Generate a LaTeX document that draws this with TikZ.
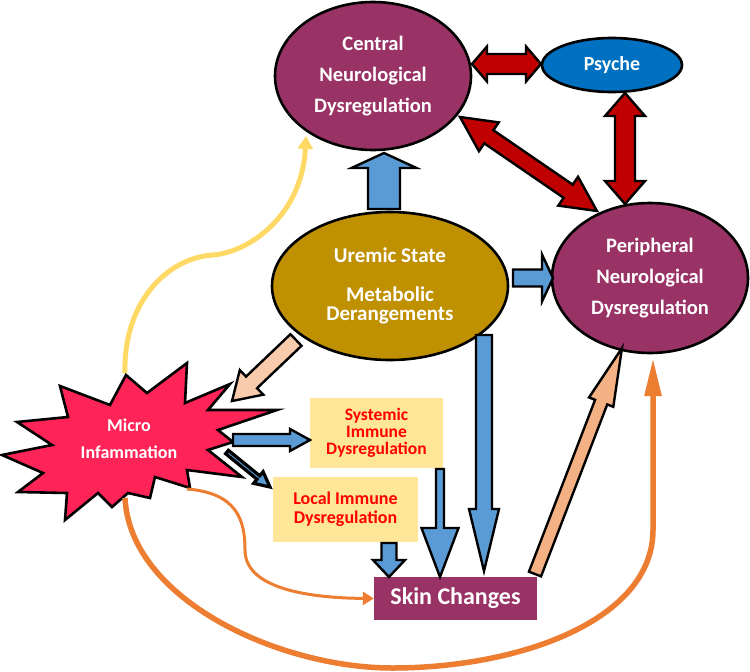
\documentclass[tikz,border=0pt]{standalone}
\usepackage{fontspec}
\setmainfont{Carlito}
\usetikzlibrary{shapes.geometric,calc,arrows.meta}

\definecolor{plum}{RGB}{153,51,102}
\definecolor{uremicgold}{RGB}{191,144,0}
\definecolor{psyblue}{RGB}{0,112,192}
\definecolor{arrblue}{RGB}{91,155,213}
\definecolor{darkred}{RGB}{192,0,0}
\definecolor{peach}{RGB}{248,203,173}
\definecolor{peachdark}{RGB}{244,177,131}
\definecolor{sunny}{RGB}{255,217,102}
\definecolor{tangerine}{RGB}{237,125,49}
\definecolor{cream}{RGB}{255,230,153}
\definecolor{crimson}{RGB}{255,36,88}

% block arrow: style, from, to, half shaft, half head, head length
\newcommand{\fatarrow}[6]{%
  \coordinate (hb) at ($(#3)!#6pt!(#2)$);
  \draw[#1] ($(#2)!#4pt!90:(#3)$) -- ($(hb)!#4pt!90:(#3)$) -- ($(hb)!#5pt!90:(#3)$) -- (#3)
    -- ($(hb)!#5pt!-90:(#3)$) -- ($(hb)!#4pt!-90:(#3)$) -- ($(#2)!#4pt!-90:(#3)$) -- cycle;}
% same with a head at both ends
\newcommand{\twinarrow}[6]{%
  \coordinate (ha) at ($(#2)!#6pt!(#3)$);
  \coordinate (hb) at ($(#3)!#6pt!(#2)$);
  \draw[#1] (#2) -- ($(ha)!#5pt!90:(#3)$) -- ($(ha)!#4pt!90:(#3)$) -- ($(hb)!#4pt!90:(#3)$)
    -- ($(hb)!#5pt!90:(#3)$) -- (#3) -- ($(hb)!#5pt!-90:(#3)$) -- ($(hb)!#4pt!-90:(#3)$)
    -- ($(ha)!#4pt!-90:(#3)$) -- ($(ha)!#5pt!-90:(#3)$) -- cycle;}

\begin{document}
\begin{tikzpicture}[x=1pt, y=-1pt,
  ell/.style = {draw, ellipse, line width=2.6pt, inner sep=0pt, text=white, align=center,
                font=\bfseries\fontsize{20.5}{31}\selectfont},
  box/.style = {fill=cream, text=red, align=center, inner sep=0pt,
                font=\bfseries\fontsize{17.5}{17}\selectfont},
  fat/.style = {draw, line width=2.4pt, line join=miter},
  curve/.style = {line width=#1}]
  \useasboundingbox (0,0) rectangle (750,672);

  % curved links
  \coordinate (m1) at (125,373);
  \coordinate (c0) at (306,136);
  \draw[curve=5pt, sunny, -{Triangle[length=13pt,width=15pt]}] (m1) .. controls (123,305) and (165,258) .. (213,255) .. controls (250,252) and (302,215) .. (c0);
  \coordinate (m2) at (187,489);
  \coordinate (m3) at (125,498);
  \coordinate (p0) at (653,358);

  % starburst
  \draw[fill=crimson, line width=2.6pt, line join=miter] (126,375) -- (147,393) -- (187,363) -- (185,403) -- (230,384) -- (208,410)
    -- (277,410) -- (218,430) -- (233,442) -- (208,450) -- (242,477) -- (187,470) -- (190,488) -- (155,477) -- (150,498)
    -- (128,493) -- (112,507) -- (98,493) -- (65,520) -- (67,493) -- (18,492) -- (43,473) -- (2,455) -- (52,445)
    -- (17,422) -- (68,417) -- (60,386) -- (110,405) -- cycle;
  \node[text=white, align=center, font=\bfseries\fontsize{18}{27}\selectfont] (micro) at (129,439) {Micro\\Infammation};

  \node[ell, fill=plum, minimum width=196pt, minimum height=148pt] (central) at (373,76) {Central\\Neurological\\Dysregulation};
  \node[ell, fill=psyblue, minimum width=140pt, minimum height=54pt, font=\bfseries\fontsize{20}{24}\selectfont] (psyche) at (612,65) {Psyche};
  \node[ell, fill=plum, minimum width=196pt, minimum height=150pt] (peripheral) at (650,278) {Peripheral\\Neurological\\Dysregulation};
  \node[ell, fill=uremicgold, minimum width=236pt, minimum height=148pt, font=\bfseries\fontsize{21}{19}\selectfont] (uremic) at (390,286) {Uremic State\\[20pt]Metabolic\\Derangements};

  \node[box, minimum width=133pt, minimum height=70pt] (systemic) at (376.5,433) {Systemic\\Immune\\Dysregulation};
  \node[box, minimum width=145pt, minimum height=65pt, font=\bfseries\fontsize{18}{19}\selectfont] (local) at (345.5,509.5) {Local Immune\\Dysregulation};
  \node[fill=plum, text=white, inner sep=0pt, minimum width=163pt, minimum height=43pt, font=\bfseries\fontsize{24}{28}\selectfont] (skin) at (455.5,598.5) {Skin Changes};

  \draw[curve=3pt, tangerine, -{Triangle[length=11pt,width=13pt]}] (m2) .. controls (237,493) and (245,520) .. (245,550) .. controls (245,592) and (320,598) .. (skin.west);
  \draw[curve=5.5pt, tangerine, -{Triangle[length=38pt,width=16pt]}] (m3) .. controls (130,600) and (280,668) .. (392,668) .. controls (520,668) and (653,620) .. (653,530) -- (p0);

  % red links
  \coordinate (c2) at (472,64);  \coordinate (s2) at (541,64);
  \twinarrow{fat, fill=darkred}{c2}{s2}{10}{17.5}{15}
  \coordinate (c3) at (460,117); \coordinate (p3) at (597,211);
  \twinarrow{fat, fill=darkred}{c3}{p3}{8}{17.5}{35}
  \coordinate (s4) at (625,93);  \coordinate (p4) at (625,204);
  \twinarrow{fat, fill=darkred}{s4}{p4}{10}{20}{23}

  % blue links
  \coordinate (u1) at (384,209); \coordinate (c1) at (384,153);
  \fatarrow{fat, fill=arrblue}{u1}{c1}{16}{32.5}{15}
  \coordinate (u5) at (513,278); \coordinate (p5) at (553,278);
  \fatarrow{fat, fill=arrblue}{u5}{p5}{8.5}{23.5}{11}
  \coordinate (u6) at (484,335); \coordinate (k6) at (484,571);
  \fatarrow{fat, fill=arrblue}{u6}{k6}{8}{15}{62}
  \coordinate (m7) at (233,440); \coordinate (y7) at (310,440);
  \fatarrow{fat, fill=arrblue}{m7}{y7}{6}{11}{20}
  \coordinate (y8) at (440,469); \coordinate (k8) at (440,577);
  \fatarrow{fat, fill=arrblue}{y8}{k8}{4}{18.5}{49}
  \coordinate (l9) at (389,543); \coordinate (k9) at (389,577);
  \fatarrow{fat, fill=arrblue}{l9}{k9}{7.5}{16}{17}
  \coordinate (m10) at (227,452); \coordinate (l10) at (270,487);
  \fatarrow{fat, line width=3.2pt, fill=arrblue}{m10}{l10}{2.2}{7.5}{15}

  % peach links
  \coordinate (u11) at (296,340); \coordinate (m11) at (232,401);
  \fatarrow{fat, fill=peach}{u11}{m11}{8}{17}{27}
  \coordinate (k12) at (535,574); \coordinate (p12) at (622,348);
  \fatarrow{fat, fill=peachdark}{k12}{p12}{6.5}{13}{58}
\end{tikzpicture}
\end{document}
